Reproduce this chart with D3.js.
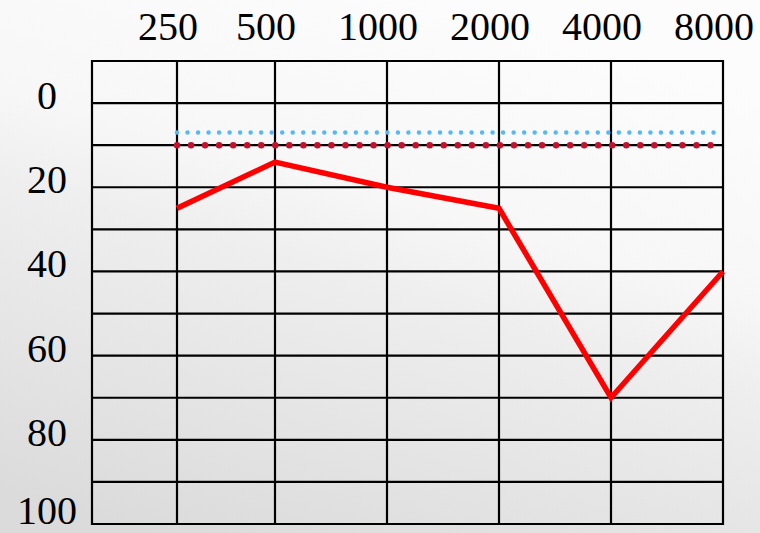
<!DOCTYPE html>
<html>
<head>
<meta charset="utf-8">
<script src="https://cdn.jsdelivr.net/npm/d3@7"></script>
<style>
  body { margin: 0; }
  svg { display: block; font-family: "Liberation Serif", "Times New Roman", serif; }
</style>
</head>
<body>
<div id="chart"></div>
<script>
// Audiogram data
const frequencies = ['250', '500', '1000', '2000', '4000', '8000']
const levelTicks = [0, 20, 40, 60, 80, 100]
const hearingLoss = [25, 14, 20, 25, 70, 40]
const normalLimit = [10, 10, 10, 10, 10, 10]
const referenceLine = [7, 7, 7, 7, 7, 7]

const width = 760
const height = 533

const svg = d3.select('#chart')
  .append('svg')
  .attr('width', width)
  .attr('height', height)

// Background gradient
const defs = svg.append('defs')
const grad = defs.append('linearGradient')
  .attr('id', 'bg')
  .attr('x1', 0.6).attr('y1', 0)
  .attr('x2', 0.2).attr('y2', 1)
grad.selectAll('stop')
  .data([[0, '#fcfcfc'], [0.35, '#f7f7f7'], [0.5, '#eeeeee'], [1, '#dbdbdb']])
  .enter().append('stop')
  .attr('offset', d => d[0])
  .attr('stop-color', d => d[1])

svg.append('rect')
  .attr('width', width)
  .attr('height', height)
  .attr('fill', 'url(#bg)')

// Scales: x is indexed by octave step (-1 = spare column on the left)
const x = d3.scaleLinear()
  .domain([-1, 0, 1, 5])
  .range([92, 177, 275, 723])

const y = d3.scaleLinear()
  .domain([-10, 100])
  .range([61, 524])

// Grid
const grid = svg.append('g')
  .attr('stroke', '#000')
  .attr('stroke-width', 2.2)

grid.selectAll('line.h')
  .data(d3.range(-10, 101, 10))
  .enter().append('line')
  .attr('class', 'h')
  .attr('x1', x(-1))
  .attr('x2', x(5))
  .attr('y1', d => y(d))
  .attr('y2', d => y(d))

grid.selectAll('line.v')
  .data(d3.range(-1, 6))
  .enter().append('line')
  .attr('class', 'v')
  .attr('x1', d => x(d))
  .attr('x2', d => x(d))
  .attr('y1', y(-10) - 1)
  .attr('y2', y(100) + 1)

// Frequency labels
svg.append('g')
  .selectAll('text')
  .data(frequencies)
  .enter().append('text')
  .attr('x', (d, i) => x(i) - 9)
  .attr('y', 40)
  .attr('text-anchor', 'middle')
  .attr('font-size', 40)
  .attr('fill', '#000')
  .text(d => d)

// Level labels (baseline kept inside the picture)
svg.append('g')
  .selectAll('text')
  .data(levelTicks)
  .enter().append('text')
  .attr('x', 47)
  .attr('y', d => Math.min(y(d) + 6, height - 9))
  .attr('text-anchor', 'middle')
  .attr('font-size', 40)
  .attr('fill', '#000')
  .text(d => d)

const line = d3.line()
  .x((d, i) => x(i))
  .y(d => y(d))

// Dotted reference lines
svg.append('path')
  .datum(referenceLine)
  .attr('d', line)
  .attr('fill', 'none')
  .attr('stroke', '#55b9f7')
  .attr('stroke-width', 4.5)
  .attr('stroke-linecap', 'round')
  .attr('stroke-dasharray', '0 10.52')

svg.append('path')
  .datum(normalLimit)
  .attr('d', line)
  .attr('fill', 'none')
  .attr('stroke', '#c8102e')
  .attr('stroke-width', 6.5)
  .attr('stroke-linecap', 'round')
  .attr('stroke-dasharray', '0 14.04')

// Hearing threshold
svg.append('path')
  .datum(hearingLoss)
  .attr('d', line)
  .attr('fill', 'none')
  .attr('stroke', '#ff0000')
  .attr('stroke-width', 5.5)
  .attr('stroke-linejoin', 'miter')
</script>
</body>
</html>
